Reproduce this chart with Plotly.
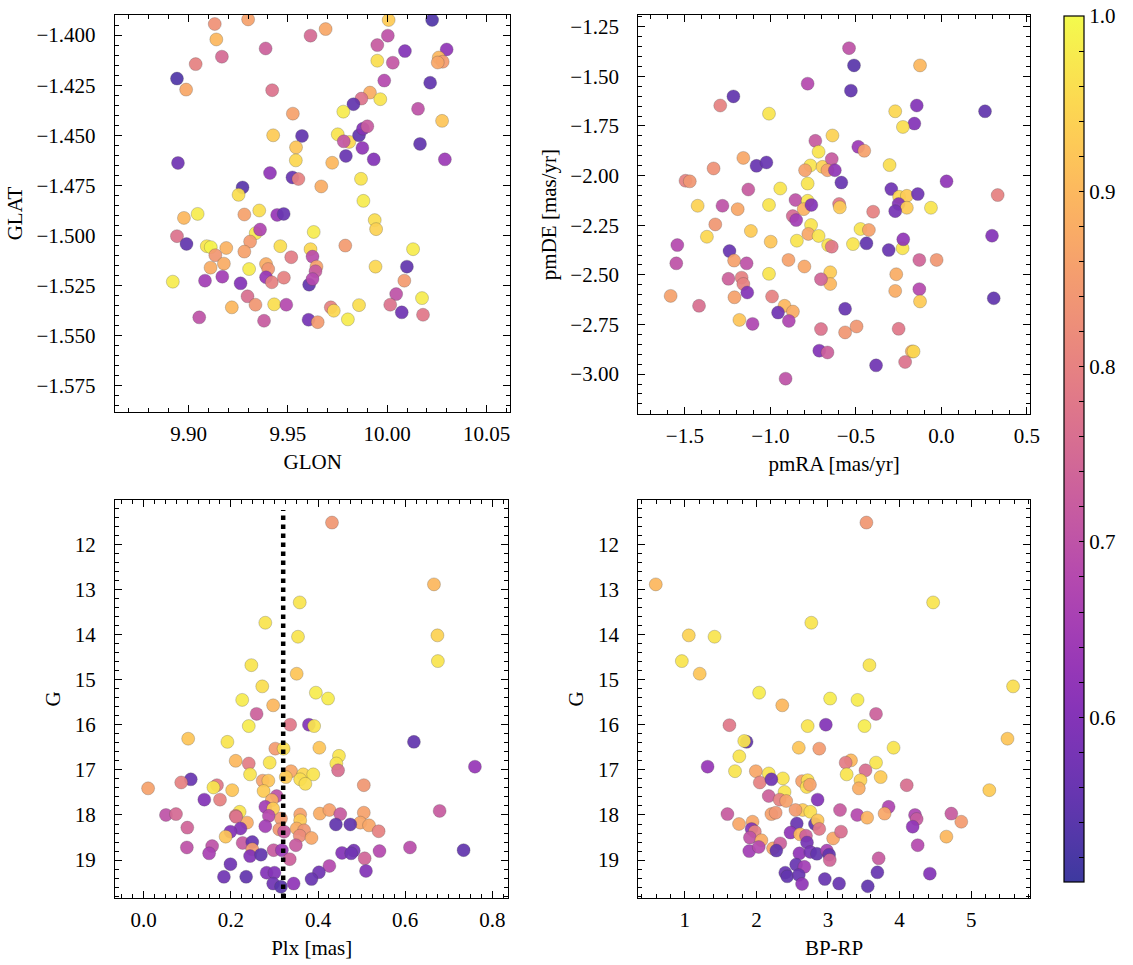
import plotly.graph_objects as go
from plotly.colors import sample_colorscale

# ---------------- Panel 1: GLON / GLAT ----------------
glon = [9.9132, 9.9300, 9.9140, 9.9168, 9.9036, 9.8942, 9.8988, 9.9388, 9.9614, 9.9690,
        9.9421, 9.9525, 10.0007, 10.0226, 10.0003, 9.9950, 9.9950, 10.0028, 10.0089, 10.0299,
        10.0259, 10.0279, 10.0254, 9.9985, 10.0216, 9.9913, 9.9965, 9.9870, 9.9830, 9.9779,
        10.0155, 10.0276, 9.9426, 9.9571, 9.9541, 9.9540, 9.9751, 9.9809, 9.9781, 9.9858,
        9.9878, 9.9900, 9.9875, 9.9792, 9.9932, 10.0165, 10.0290, 9.8947, 9.9410, 9.9523,
        9.9553, 9.9723, 9.9668, 9.9868, 9.9272, 9.9252, 9.9880, 9.8977, 9.9046, 9.9281,
        9.9356, 9.9446, 9.9479, 9.9937, 9.9944, 9.9630, 9.9338, 9.9360, 9.8942, 9.8990,
        9.9092, 9.9112, 9.9190, 9.9310, 9.9281, 9.9135, 9.9462, 9.9517, 9.9614, 9.9624,
        9.9789, 10.0130, 9.9111, 9.9178, 9.9305, 9.9390, 9.9401, 9.9644, 9.9639, 9.9941,
        10.0099, 9.8921, 9.9083, 9.9170, 9.9262, 9.9390, 9.9419, 9.9480, 9.9607, 9.9624,
        10.0086, 9.9297, 9.9337, 9.9218, 9.9431, 9.9492, 9.9716, 9.9731, 9.9858, 10.0045,
        10.0015, 10.0073, 10.0175, 10.0180, 9.9054, 9.9380, 9.9604, 9.9650, 9.9802]
glat = [-1.3945, -1.3922, -1.4022, -1.4108, -1.4145, -1.4217, -1.4272, -1.4067, -1.4003, -1.3970,
        -1.4275, -1.4392, -1.3925, -1.3925, -1.4003, -1.4050, -1.4128, -1.4138, -1.4080, -1.4072,
        -1.4112, -1.4133, -1.4137, -1.4227, -1.4238, -1.4287, -1.4320, -1.4317, -1.4345, -1.4382,
        -1.4368, -1.4428, -1.4500, -1.4503, -1.4560, -1.4625, -1.4495, -1.4533, -1.4530, -1.4500,
        -1.4467, -1.4455, -1.4563, -1.4603, -1.4620, -1.4543, -1.4620, -1.4638, -1.4688, -1.4710,
        -1.4718, -1.4637, -1.4755, -1.4717, -1.4760, -1.4797, -1.4827, -1.4912, -1.4892, -1.4895,
        -1.4875, -1.4897, -1.4892, -1.4923, -1.4968, -1.4982, -1.4988, -1.4970, -1.5003, -1.5042,
        -1.5053, -1.5058, -1.5062, -1.5030, -1.5080, -1.5098, -1.5053, -1.5108, -1.5068, -1.5105,
        -1.5050, -1.5068, -1.5160, -1.5140, -1.5167, -1.5142, -1.5167, -1.5155, -1.5178, -1.5155,
        -1.5155, -1.5230, -1.5225, -1.5205, -1.5238, -1.5208, -1.5233, -1.5210, -1.5245, -1.5217,
        -1.5225, -1.5303, -1.5345, -1.5358, -1.5343, -1.5345, -1.5358, -1.5375, -1.5347, -1.5292,
        -1.5345, -1.5383, -1.5312, -1.5395, -1.5408, -1.5425, -1.5420, -1.5432, -1.5418]
prob_pos = [0.83, 0.86, 0.90, 0.75, 0.80, 0.53, 0.87, 0.73, 0.75, 0.87,
            0.77, 0.86, 0.93, 0.53, 0.70, 0.72, 0.96, 0.71, 0.60, 0.62,
            0.90, 0.85, 0.87, 0.68, 0.55, 0.88, 0.97, 0.77, 0.55, 0.98,
            0.70, 0.92, 0.93, 0.55, 0.92, 0.95, 0.97, 0.95, 0.71, 0.55,
            0.60, 0.72, 0.62, 0.56, 0.60, 0.55, 0.64, 0.57, 0.62, 0.56,
            0.80, 0.90, 0.88, 0.97, 0.54, 0.96, 0.98, 0.90, 0.98, 0.86,
            0.96, 0.63, 0.56, 0.96, 0.94, 0.98, 0.98, 0.67, 0.77, 0.55,
            0.97, 0.99, 0.89, 0.85, 0.86, 0.84, 0.96, 0.79, 0.95, 0.69,
            0.85, 0.98, 0.88, 0.88, 0.98, 0.88, 0.84, 0.86, 0.72, 0.95,
            0.55, 0.98, 0.65, 0.65, 0.60, 0.63, 0.80, 0.80, 0.55, 0.68,
            0.85, 0.76, 0.84, 0.90, 0.96, 0.68, 0.80, 0.95, 0.96, 0.70,
            0.77, 0.57, 0.98, 0.78, 0.70, 0.72, 0.58, 0.85, 0.98]

# ---------------- Panel 2: pmRA / pmDE ----------------
pmra = [-0.540, -0.511, -0.125, -0.782, -0.529, -1.216, -1.293, -1.008, -0.270, -0.144,
        -0.158, -0.225, 0.255, -0.737, -0.637, -0.718, -0.486, -0.451, -1.158, -1.081,
        -1.023, -1.332, -0.766, -0.695, -0.641, -0.666, -0.623, -0.797, -0.303, -1.496,
        -1.471, -0.782, -0.585, 0.030, 0.329, -1.129, -0.942, -0.293, -0.247,
        -0.202, -0.138, -0.250, -0.202, -0.270, -0.061, -0.399, -1.425, -1.280, -1.191,
        -1.008, -0.853, -0.782, -0.805, -0.760, -0.598, -0.594, -0.869, -0.849, -1.322,
        -0.762, -1.371, -1.114, -0.778, -0.718, -0.998, -0.845, -0.662, -0.641, -0.517,
        -0.473, -0.424, -0.438, -0.308, -0.227, -0.223, 0.296, -1.544, -1.550, -1.239,
        -1.212, -1.139, -0.894, -0.801, -0.129, -0.028, -1.008, -0.650, -0.650, -0.704,
        -0.264, -1.245, -1.168, -1.158, -1.135, -0.129, -0.270, -0.125, 0.306, -1.583,
        -1.417, -1.210, -0.990, -0.917, -0.868, -0.955, -0.892, -1.181, -1.104, -0.563,
        -0.704, -0.563, -0.496, -0.250, -0.714, -0.666, -0.173, -0.163, -0.212, -0.382, -0.911]
pmde = [-1.358, -1.445, -1.445, -1.537, -1.572, -1.601, -1.647, -1.688, -1.676, -1.647,
        -1.738, -1.755, -1.676, -1.825, -1.798, -1.880, -1.855, -1.875, -1.911, -1.951,
        -1.934, -1.964, -1.949, -1.956, -1.917, -1.973, -1.973, -1.973, -1.947, -2.026,
        -2.029, -2.040, -2.035, -2.029, -2.098, -2.070, -2.065, -2.068, -2.107,
        -2.102, -2.093, -2.143, -2.162, -2.179, -2.162, -2.182, -2.152, -2.152, -2.169,
        -2.148, -2.123, -2.127, -2.169, -2.148, -2.143, -2.160, -2.204, -2.224, -2.246,
        -2.249, -2.308, -2.279, -2.294, -2.304, -2.333, -2.328, -2.350, -2.358, -2.345,
        -2.269, -2.274, -2.341, -2.375, -2.366, -2.321, -2.303, -2.350, -2.442, -2.380,
        -2.428, -2.442, -2.425, -2.458, -2.425, -2.425, -2.495, -2.487, -2.546, -2.522,
        -2.497, -2.520, -2.514, -2.546, -2.589, -2.572, -2.581, -2.634, -2.618, -2.606,
        -2.656, -2.613, -2.609, -2.656, -2.685, -2.690, -2.732, -2.727, -2.747, -2.671,
        -2.773, -2.790, -2.760, -2.772, -2.882, -2.891, -2.886, -2.886, -2.939, -2.956, -3.023]
prob_pm = [0.70, 0.54, 0.90, 0.68, 0.55, 0.55, 0.80, 0.97, 0.95, 0.60,
           0.60, 0.96, 0.55, 0.72, 0.94, 0.97, 0.64, 0.86, 0.87, 0.56,
           0.56, 0.83, 0.97, 0.94, 0.72, 0.86, 0.62, 0.86, 0.96, 0.80,
           0.84, 0.97, 0.56, 0.62, 0.80, 0.72, 0.97, 0.57, 0.95,
           0.93, 0.57, 0.60, 0.93, 0.58, 0.97, 0.80, 0.94, 0.70, 0.87,
           0.97, 0.70, 0.97, 0.89, 0.60, 0.78, 0.93, 0.75, 0.65, 0.84,
           0.97, 0.95, 0.93, 0.87, 0.97, 0.92, 0.97, 0.97, 0.78, 0.97,
           0.97, 0.86, 0.55, 0.56, 0.97, 0.62, 0.60, 0.68, 0.70, 0.56,
           0.86, 0.70, 0.86, 0.87, 0.74, 0.84, 0.97, 0.93, 0.90, 0.74,
           0.88, 0.73, 0.80, 0.80, 0.60, 0.68, 0.88, 0.93, 0.55, 0.86,
           0.76, 0.86, 0.80, 0.90, 0.88, 0.57, 0.67, 0.92, 0.67, 0.56,
           0.77, 0.84, 0.84, 0.78, 0.60, 0.73, 0.89, 0.95, 0.77, 0.57, 0.70]

# ---------------- Panel 3: Plx / G ----------------
plx = [0.432, 0.666, 0.358, 0.279, 0.354, 0.674, 0.675, 0.247, 0.351, 0.272,
       0.395, 0.423, 0.226, 0.297, 0.259, 0.336, 0.379, 0.391, 0.241, 0.102,
       0.620, 0.192, 0.302, 0.321, 0.403, 0.448, 0.442, 0.211, 0.241, 0.289,
       0.760, 0.446, 0.338, 0.244, 0.366, 0.389, 0.326, 0.359, 0.371, 0.273,
       0.286, 0.108, 0.086, 0.168, 0.160, 0.010, 0.203, 0.275, 0.505, 0.139,
       0.175, 0.305, 0.294, 0.279, 0.297, 0.220, 0.211, 0.051, 0.074, 0.287,
       0.315, 0.359, 0.359, 0.404, 0.426, 0.451, 0.505, 0.497, 0.517, 0.539,
       0.679, 0.441, 0.474, 0.100, 0.237, 0.212, 0.222, 0.199, 0.279, 0.311,
       0.322, 0.351, 0.368, 0.358, 0.385, 0.188, 0.227, 0.249, 0.249, 0.298,
       0.317, 0.349, 0.099, 0.157, 0.150, 0.244, 0.269, 0.455, 0.482, 0.476,
       0.541, 0.507, 0.611, 0.734, 0.335, 0.199, 0.426, 0.510, 0.402, 0.385,
       0.184, 0.235, 0.282, 0.300, 0.297, 0.315, 0.344]
g_plx = [11.52, 12.89, 13.29, 13.74, 14.05, 14.02, 14.59, 14.68, 14.87, 15.15,
         15.29, 15.42, 15.45, 15.57, 15.76, 16.00, 16.00, 16.03, 16.03, 16.31,
         16.38, 16.38, 16.53, 16.53, 16.51, 16.69, 16.86, 16.80, 16.86, 16.84,
         16.93, 17.01, 17.03, 17.10, 17.10, 17.10, 17.16, 17.21, 17.31, 17.24,
         17.24, 17.21, 17.28, 17.34, 17.39, 17.41, 17.45, 17.47, 17.34, 17.66,
         17.66, 17.58, 17.67, 17.82, 17.86, 17.93, 18.02, 18.00, 17.98, 18.02,
         18.08, 17.99, 18.12, 17.97, 17.89, 17.98, 17.95, 18.17, 18.23, 18.36,
         17.91, 18.21, 18.21, 18.28, 18.17, 18.04, 18.30, 18.37, 18.25, 18.32,
         18.37, 18.30, 18.34, 18.46, 18.51, 18.48, 18.62, 18.60, 18.76, 18.78,
         18.78, 18.67, 18.72, 18.69, 18.85, 18.91, 18.88, 18.84, 18.79, 18.85,
         18.80, 18.96, 18.72, 18.78, 18.98, 19.09, 19.13, 19.24, 19.27, 19.42,
         19.37, 19.37, 19.28, 19.28, 19.52, 19.59, 19.52]
prob_plx = [0.84, 0.90, 0.97, 0.97, 0.97, 0.94, 0.97, 0.97, 0.92, 0.96,
            0.98, 0.98, 0.98, 0.90, 0.73, 0.78, 0.60, 0.97, 0.98, 0.92,
            0.55, 0.97, 0.85, 0.96, 0.92, 0.97, 0.97, 0.90, 0.79, 0.97,
            0.63, 0.76, 0.87, 0.97, 0.95, 0.97, 0.93, 0.96, 0.96, 0.86,
            0.92, 0.56, 0.80, 0.78, 0.97, 0.86, 0.92, 0.93, 0.84, 0.60,
            0.80, 0.70, 0.88, 0.65, 0.93, 0.97, 0.80, 0.70, 0.75, 0.68,
            0.85, 0.86, 0.93, 0.88, 0.86, 0.72, 0.86, 0.87, 0.87, 0.80,
            0.72, 0.55, 0.55, 0.74, 0.88, 0.77, 0.60, 0.60, 0.65, 0.84,
            0.72, 0.88, 0.84, 0.82, 0.87, 0.92, 0.72, 0.56, 0.85, 0.72,
            0.64, 0.72, 0.70, 0.70, 0.66, 0.60, 0.55, 0.60, 0.58, 0.57,
            0.68, 0.74, 0.69, 0.55, 0.73, 0.57, 0.68, 0.60, 0.57, 0.56,
            0.57, 0.55, 0.60, 0.60, 0.57, 0.54, 0.62]
plx_cut = 0.32

# ---------------- Panel 4: BP-RP / G ----------------
bprp = [3.537, 0.594, 4.469, 2.767, 1.055, 1.415, 0.958, 3.579, 1.208, 5.586,
        2.038, 3.030, 3.413, 2.361, 3.671, 1.623, 2.970, 2.716, 3.510, 5.508,
        1.863, 1.830, 2.878, 2.592, 3.916, 1.761, 3.671, 3.321, 1.318, 3.247,
        3.524, 1.701, 1.992, 2.172, 2.370, 3.261, 3.736, 3.454, 2.047, 2.209,
        2.638, 2.716, 2.702, 2.748, 3.431, 4.100, 5.254, 2.393, 2.172, 2.324,
        2.416, 2.855, 3.847, 2.647, 2.753, 2.546, 3.168, 1.595, 2.209, 2.269,
        3.408, 3.547, 3.791, 4.216, 4.239, 4.183, 4.723, 4.862, 1.757, 1.946,
        1.932, 1.978, 1.909, 2.070, 2.564, 2.818, 2.855, 2.878, 2.476, 2.610,
        2.693, 2.707, 3.072, 3.182, 4.654, 4.253, 1.900, 2.033, 2.232, 2.333,
        2.278, 2.601, 2.753, 2.845, 2.984, 3.016, 3.025, 3.708, 2.555, 2.670,
        2.403, 2.430, 2.592, 2.638, 2.956, 3.155, 3.556, 3.690, 4.423]
g_cmd = [11.52, 12.89, 13.29, 13.74, 14.02, 14.05, 14.59, 14.68, 14.87, 15.15,
         15.29, 15.42, 15.45, 15.57, 15.76, 16.01, 16.00, 16.03, 16.03, 16.31,
         16.38, 16.36, 16.53, 16.51, 16.51, 16.70, 16.84, 16.79, 16.93, 16.84,
         17.01, 17.03, 17.03, 17.08, 17.19, 17.10, 17.16, 17.23, 17.28, 17.21,
         17.25, 17.23, 17.38, 17.33, 17.41, 17.34, 17.45, 17.49, 17.58, 17.66,
         17.69, 17.66, 17.82, 17.89, 17.93, 17.89, 17.89, 17.98, 17.98, 17.95,
         18.00, 18.06, 17.97, 18.00, 18.09, 18.26, 17.97, 18.15, 18.20, 18.15,
         18.31, 18.37, 18.50, 18.56, 18.19, 18.20, 18.12, 18.31, 18.39, 18.43,
         18.46, 18.61, 18.52, 18.37, 18.48, 18.67, 18.80, 18.71, 18.74, 18.63,
         18.79, 18.85, 18.82, 18.86, 18.79, 18.88, 19.00, 18.96, 19.10, 19.15,
         19.28, 19.36, 19.33, 19.53, 19.42, 19.52, 19.58, 19.27, 19.30]
prob_cmd = [0.84, 0.90, 0.97, 0.97, 0.94, 0.97, 0.97, 0.97, 0.92, 0.96,
            0.98, 0.98, 0.98, 0.90, 0.73, 0.78, 0.60, 0.97, 0.98, 0.92,
            0.55, 0.97, 0.85, 0.92, 0.97, 0.97, 0.97, 0.90, 0.63, 0.79,
            0.76, 0.97, 0.87, 0.97, 0.97, 0.97, 0.93, 0.94, 0.80, 0.57,
            0.86, 0.96, 0.96, 0.86, 0.88, 0.76, 0.93, 0.97, 0.73, 0.80,
            0.86, 0.60, 0.67, 0.93, 0.96, 0.85, 0.72, 0.72, 0.86, 0.84,
            0.68, 0.89, 0.87, 0.67, 0.72, 0.62, 0.72, 0.85, 0.87, 0.87,
            0.60, 0.80, 0.70, 0.88, 0.56, 0.55, 0.92, 0.78, 0.62, 0.90,
            0.73, 0.58, 0.87, 0.76, 0.90, 0.68, 0.65, 0.68, 0.87, 0.73,
            0.55, 0.62, 0.58, 0.55, 0.66, 0.55, 0.74, 0.72, 0.56, 0.65,
            0.56, 0.55, 0.56, 0.62, 0.56, 0.56, 0.55, 0.56, 0.60]

cb_min, cb_max = 0.506, 1.0
cb_ticks = [round(0.52 + 0.02 * i, 2) for i in range(25)]
cb_text = [f"{v:.1f}" if abs(v * 10 - round(v * 10)) < 1e-6 else "" for v in cb_ticks]

FONT = "Liberation Serif"
FS = 21
W, H = 1133, 965

# plasma colormap as drawn with alpha 0.8 over white (matplotlib look)
ALPHA = 0.8
_stops = [i / 20 for i in range(21)]
_cols = sample_colorscale("Plasma", _stops, colortype="tuple")
faded_plasma = []
for s, c in zip(_stops, _cols):
    r, g, b = [ALPHA * v * (255 if max(c) <= 1 else 1) + (1 - ALPHA) * 255 for v in c]
    faded_plasma.append([s, f"rgb({r:.0f},{g:.0f},{b:.0f})"])


def px_x(a, b):
    return [a / W, b / W]


def px_y(top, bottom):
    return [1 - bottom / H, 1 - top / H]


fig = go.Figure()


def add(x, y, c, xa, ya):
    fig.add_trace(go.Scatter(
        x=x, y=y, mode="markers", xaxis=xa, yaxis=ya, showlegend=False,
        marker=dict(size=13, color=c, coloraxis="coloraxis", opacity=0.93,
                    line=dict(color="rgba(70,70,70,0.55)", width=0.5)),
    ))


add(glon, glat, prob_pos, "x", "y")
add(pmra, pmde, prob_pm, "x2", "y2")
add(plx, g_plx, prob_plx, "x3", "y3")
add(bprp, g_cmd, prob_cmd, "x4", "y4")

fig.add_shape(type="line", xref="x3", yref="y3 domain", x0=plx_cut, x1=plx_cut,
              y0=0, y1=0.975, line=dict(color="black", width=4.5, dash="dot"))


def axis(domain, rng, dtick, tick0, fmt, minor_dtick, title, anchor, standoff=3, **kw):
    d = dict(
        domain=domain, range=rng, dtick=dtick, tick0=tick0, tickformat=fmt,
        showline=True, linecolor="black", linewidth=1.3, mirror="ticks",
        ticks="inside", ticklen=7, tickwidth=1.2, tickcolor="black",
        showgrid=False, zeroline=False, anchor=anchor,
        tickfont=dict(family=FONT, size=FS, color="black"),
        ticklabelstandoff=standoff,
        minor=dict(ticks="inside", ticklen=4, tickwidth=1, tickcolor="black",
                   dtick=minor_dtick, showgrid=False),
        title=dict(text=title, font=dict(family=FONT, size=FS, color="black"), standoff=8),
    )
    d.update(kw)
    return d


fig.update_layout(
    width=W, height=H,
    margin=dict(l=0, r=0, t=0, b=0),
    paper_bgcolor="white", plot_bgcolor="white",
    font=dict(family=FONT, size=FS, color="black"),
    xaxis=axis(px_x(116, 515), [9.863, 10.062], 0.05, 9.9, ".2f", 0.01, "GLON", "y"),
    yaxis=axis(px_y(15, 412), [-1.588, -1.390], 0.025, -1.4, ".3f", 0.005, "GLAT", "x", standoff=14),
    xaxis2=axis(px_x(644, 1039), [-1.772, 0.517], 0.5, 0, ".1f", 0.1, "pmRA [mas/yr]", "y2"),
    yaxis2=axis(px_y(15, 414), [-3.201, -1.191], 0.25, 0, ".2f", 0.05, "pmDE [mas/yr]", "x2", standoff=14),
    xaxis3=axis(px_x(116, 513), [-0.066, 0.837], 0.2, 0, ".1f", 0.025, "Plx [mas]", "y3"),
    yaxis3=axis(px_y(500, 898), [19.84, 11.02], 1, 0, "d", 0.2, "G", "x3", standoff=14),
    xaxis4=axis(px_x(644, 1039), [0.35, 5.82], 1, 0, "d", 0.2, "BP-RP", "y4"),
    yaxis4=axis(px_y(500, 898), [19.84, 11.02], 1, 0, "d", 0.2, "G", "x4", standoff=14),
    coloraxis=dict(
        colorscale=faded_plasma, cmin=cb_min, cmax=cb_max,
        colorbar=dict(
            x=1073 / W, xanchor="left", xpad=0, ypad=0,
            y=1 - 16 / H, yanchor="top", len=866 / H, lenmode="fraction",
            thickness=20, thicknessmode="pixels",
            outlinewidth=1.2, outlinecolor="black",
            tickmode="array", tickvals=cb_ticks, ticktext=cb_text,
            ticks="inside", ticklen=5, tickwidth=1.2, tickcolor="black",
            tickfont=dict(family=FONT, size=FS, color="black"),
        ),
    ),
)

fig.write_html("out.html", config={"displayModeBar": False},
               post_script="document.body.style.margin='0';")
